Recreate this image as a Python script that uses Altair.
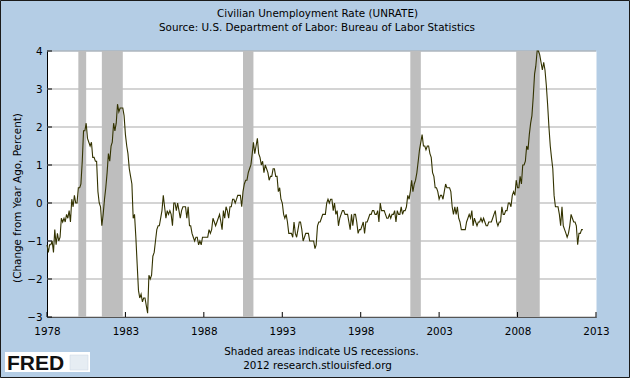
import altair as alt
import pandas as pd

# Year-over-year change in the civilian unemployment rate (percentage points), monthly from Jan 1978
yoy_1978_1989 = [
    -1.1, -1.3, -1.1, -1.1, -1.0, -1.3, -0.7, -1.1, -0.8, -1.0, -0.9, -0.4,
    -0.5, -0.4, -0.5, -0.3, -0.4, -0.2, -0.5, 0.1, -0.1, 0.2, 0.0, 0.0,
    0.4, 0.4, 0.5, 1.1, 1.9, 1.9, 2.1, 1.7, 1.6, 1.5, 1.6, 1.2,
    1.2, 1.1, 1.1, 0.3, 0.0, -0.1, -0.6, -0.3, 0.1, 0.4, 0.8, 1.3,
    1.1, 1.5, 1.6, 2.1, 1.9, 2.1, 2.6, 2.4, 2.5, 2.5, 2.5, 2.3,
    1.8, 1.5, 1.3, 0.9, 0.7, 0.5, -0.4, -0.3, -0.9, -1.6, -2.3, -2.5,
    -2.4, -2.6, -2.5, -2.5, -2.7, -2.9, -1.9, -2.0, -1.9, -1.4, -1.3, -1.0,
    -0.7, -0.6, -0.6, -0.4, -0.2, 0.2, -0.1, -0.4, -0.2, -0.3, -0.2, -0.3,
    -0.6, 0.0, 0.0, -0.2, 0.0, -0.2, -0.4, -0.2, -0.1, -0.1, -0.1, -0.4,
    -0.1, -0.6, -0.6, -0.8, -0.9, -1.0, -0.9, -0.9, -1.1, -1.0, -1.1, -0.9,
    -0.9, -0.9, -0.9, -0.9, -0.7, -0.8, -0.7, -0.4, -0.5, -0.6, -0.5, -0.4,
    -0.3, -0.5, -0.7, -0.2, -0.4, -0.1, -0.2, -0.4, -0.1, -0.1, 0.1, 0.1,
]
yoy_1990_2001 = [
    0.0, 0.1, 0.2, 0.2, 0.2, -0.1, 0.3, 0.5, 0.6, 0.6, 0.8, 0.9,
    1.0, 1.3, 1.6, 1.3, 1.5, 1.7, 1.3, 1.2, 1.0, 1.1, 0.8, 1.0,
    0.9, 0.8, 0.6, 0.7, 0.7, 0.9, 0.9, 0.7, 0.7, 0.3, 0.4, 0.1,
    0.0, -0.3, -0.4, -0.3, -0.5, -0.8, -0.8, -0.8, -0.9, -0.5, -0.8, -0.9,
    -0.7, -0.5, -0.5, -0.7, -1.0, -0.9, -0.8, -0.8, -0.8, -1.0, -1.0, -1.0,
    -1.0, -1.2, -1.1, -0.6, -0.5, -0.5, -0.4, -0.3, -0.3, -0.3, 0.0, 0.1,
    0.0, 0.1, 0.1, -0.2, 0.0, -0.3, -0.2, -0.6, -0.4, -0.3, -0.2, -0.2,
    -0.3, -0.3, -0.3, -0.5, -0.7, -0.3, -0.6, -0.3, -0.3, -0.5, -0.8, -0.7,
    -0.7, -0.6, -0.5, -0.8, -0.5, -0.5, -0.4, -0.3, -0.3, -0.2, -0.2, -0.3,
    -0.3, -0.2, -0.5, 0.0, -0.2, -0.2, -0.2, -0.3, -0.4, -0.4, -0.3, -0.4,
    -0.3, -0.3, -0.2, -0.5, -0.2, -0.3, -0.3, -0.1, -0.3, -0.2, -0.2, -0.1,
    0.2, 0.1, 0.3, 0.6, 0.3, 0.5, 0.6, 0.8, 1.1, 1.4, 1.6, 1.8,
]
yoy_2002_2012 = [
    1.5, 1.5, 1.4, 1.5, 1.5, 1.3, 1.2, 0.8, 0.7, 0.4, 0.4, 0.3,
    0.1, 0.2, 0.2, 0.1, 0.3, 0.5, 0.4, 0.4, 0.4, 0.3, -0.1, -0.3,
    -0.1, -0.3, -0.1, -0.4, -0.5, -0.7, -0.7, -0.7, -0.7, -0.5, -0.4, -0.3,
    -0.4, -0.2, -0.6, -0.4, -0.5, -0.6, -0.5, -0.5, -0.4, -0.5, -0.4, -0.5,
    -0.6, -0.6, -0.5, -0.5, -0.5, -0.4, -0.3, -0.2, -0.5, -0.6, -0.5, -0.5,
    -0.1, -0.3, -0.3, -0.2, -0.2, 0.0, 0.0, -0.1, 0.2, 0.3, 0.2, 0.6,
    0.4, 0.4, 0.7, 0.5, 1.0, 1.0, 1.1, 1.5, 1.4, 1.8, 2.1, 2.3,
    2.8, 3.4, 3.6, 4.0, 4.0, 3.9, 3.7, 3.5, 3.7, 3.5, 3.1, 2.6,
    2.0, 1.5, 1.2, 0.9, 0.2, -0.1, -0.1, -0.1, -0.3, -0.6, -0.1, -0.6,
    -0.7, -0.8, -0.9, -0.8, -0.6, -0.3, -0.4, -0.5, -0.5, -0.6, -1.1, -0.8,
    -0.8, -0.7, -0.7,
]
series_start = "1978-01-01"

rec_start = ["1980-01-01", "1981-07-01", "1990-07-01", "2001-03-01", "2007-12-01"]
rec_end = ["1980-07-01", "1982-11-01", "1991-03-01", "2001-11-01", "2009-06-01"]

x_tick_years = [1978, 1983, 1988, 1993, 1998, 2003, 2008, 2013]
y_tick_values = [-3, -2, -1, 0, 1, 2, 3, 4]

title_lines = ["Civilian Unemployment Rate (UNRATE)",
               "Source: U.S. Department of Labor: Bureau of Labor Statistics"]
y_title = "(Change from Year Ago, Percent)"
note_lines = ["Shaded areas indicate US recessions.", "2012 research.stlouisfed.org"]

# ---------------------------------------------------------------
values = yoy_1978_1989 + yoy_1990_2001 + yoy_2002_2012
df = pd.DataFrame({
    "date": pd.date_range(series_start, periods=len(values), freq="MS"),
    "value": values,
})
rec = pd.DataFrame({"start": pd.to_datetime(rec_start), "end": pd.to_datetime(rec_end)})
xt = pd.DataFrame({"date": pd.to_datetime([f"{y}-01-01" for y in x_tick_years])})
yt = pd.DataFrame({"v": y_tick_values})
one = pd.DataFrame({"k": [0]})

FONT = "DejaVu Sans"
FS = 10.4
W, H = 549, 266

xscale = alt.Scale(domain=[alt.DateTime(year=1978, month=1, date=1),
                           alt.DateTime(year=2013, month=1, date=1)], nice=False)
yscale = alt.Scale(domain=[-3, 4], nice=False, zero=False)

xaxis = alt.Axis(values=[alt.DateTime(year=y, month=1, date=1) for y in x_tick_years],
                 format="%Y", title=None, grid=False, ticks=False, tickSize=0,
                 labelPadding=9, labelFlush=False, labelOverlap=False,
                 domainColor="black", labelColor="black", labelFont=FONT, labelFontSize=FS)
yaxis = alt.Axis(values=y_tick_values, title=None, grid=False,
                 ticks=False, tickSize=0, labelPadding=5, labelFlush=False, labelOverlap=False,
                 domainColor="black", labelColor="black", labelFont=FONT, labelFontSize=FS)

grid = alt.Chart(yt).mark_rule(color="#a9a9a9", strokeWidth=1).encode(
    y=alt.Y("v:Q", scale=yscale, axis=yaxis), x=alt.value(0), x2=alt.value(W))

bands = alt.Chart(rec).mark_rect(color="#bebebe").encode(
    x=alt.X("start:T", scale=xscale, axis=xaxis), x2="end:T")

line = alt.Chart(df).mark_line(color="#333300", strokeWidth=1.1).encode(
    x=alt.X("date:T", scale=xscale, axis=xaxis),
    y=alt.Y("value:Q", scale=yscale, axis=yaxis))

yticks = alt.Chart(yt).mark_rule(color="black").encode(
    y=alt.Y("v:Q", scale=yscale, axis=yaxis), x=alt.value(0), x2=alt.value(5))
xticks = alt.Chart(xt).mark_rule(color="black").encode(
    x=alt.X("date:T", scale=xscale, axis=xaxis), y=alt.value(H), y2=alt.value(H - 5))


def label(txt, x, y, size=FS, **kw):
    return alt.Chart(one).mark_text(text=txt, font=FONT, fontSize=size, color="black",
                                    **kw).encode(x=alt.value(x), y=alt.value(y))


texts = [
    label(title_lines[0], 270.5, -37),
    label(title_lines[1], 270, -23),
    label(y_title, -29, 147, angle=270),
    label(note_lines[0], 274.5, 301),
    label(note_lines[1], 270.5, 315),
]

border = alt.Chart(one).mark_rect(fillOpacity=0, stroke="#1a1a1a", strokeWidth=1).encode(
    x=alt.value(-46.5), x2=alt.value(582.5), y=alt.value(-50.5), y2=alt.value(326.5))
logo_box = alt.Chart(one).mark_rect(color="white").encode(
    x=alt.value(-42), x2=alt.value(43), y=alt.value(301), y2=alt.value(321))
logo_icon = alt.Chart(one).mark_rect(color="#e6edf3", stroke="#c8d4e0", strokeWidth=0.5).encode(
    x=alt.value(23), x2=alt.value(41), y=alt.value(304), y2=alt.value(319))
logo_text = alt.Chart(one).mark_text(text="FRED", font="Liberation Sans", fontWeight="bold",
                                     fontSize=21, color="#111111", align="left",
                                     baseline="alphabetic").encode(
    x=alt.value(-40), y=alt.value(319))

chart = alt.layer(grid, bands, line, yticks, xticks, *texts, border, logo_box, logo_icon,
                  logo_text).properties(
    width=W, height=H,
    autosize=alt.AutoSizeParams(type="none"),
    padding={"left": 47, "top": 51, "right": 34, "bottom": 61},
    background="#b4cde5",
).configure_view(fill="white", stroke="transparent")

chart.save("out.html", embed_options={"renderer": "svg", "actions": False})
